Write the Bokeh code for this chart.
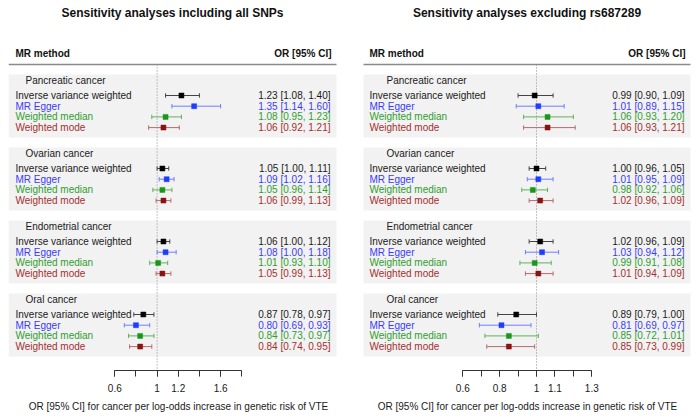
from bokeh.plotting import figure
from bokeh.layouts import row
from bokeh.models import Range1d, LinearAxis, FixedTicker, CustomJSTickFormatter, ColumnDataSource
from bokeh.core.properties import value
from bokeh.embed import file_html
from bokeh.resources import INLINE

# ---------------- data ----------------
cancers = ["Pancreatic cancer", "Ovarian cancer", "Endometrial cancer", "Oral cancer"]
methods = ["Inverse variance weighted", "MR Egger", "Weighted median", "Weighted mode"]

# Sensitivity analyses including all SNPs (rows: cancers, cols: methods)
all_or = [[1.23, 1.35, 1.08, 1.06],
          [1.05, 1.09, 1.05, 1.06],
          [1.06, 1.08, 1.01, 1.05],
          [0.87, 0.80, 0.84, 0.84]]
all_lo = [[1.08, 1.14, 0.95, 0.92],
          [1.00, 1.02, 0.96, 0.99],
          [1.00, 1.00, 0.93, 0.99],
          [0.78, 0.69, 0.73, 0.74]]
all_hi = [[1.40, 1.60, 1.23, 1.21],
          [1.11, 1.16, 1.14, 1.13],
          [1.12, 1.18, 1.10, 1.13],
          [0.97, 0.93, 0.97, 0.95]]

# Sensitivity analyses excluding rs687289
exc_or = [[0.99, 1.01, 1.06, 1.06],
          [1.00, 1.01, 0.98, 1.02],
          [1.02, 1.03, 0.99, 1.01],
          [0.89, 0.81, 0.85, 0.85]]
exc_lo = [[0.90, 0.89, 0.93, 0.93],
          [0.96, 0.95, 0.92, 0.96],
          [0.96, 0.94, 0.91, 0.94],
          [0.79, 0.69, 0.72, 0.73]]
exc_hi = [[1.09, 1.15, 1.20, 1.21],
          [1.05, 1.09, 1.06, 1.09],
          [1.09, 1.12, 1.08, 1.09],
          [1.00, 0.97, 1.01, 0.99]]

left_ticks = [0.6, 1.0, 1.2, 1.6]
left_minor = [0.6, 0.8, 1.0, 1.2, 1.4, 1.6, 1.8]
right_ticks = [0.6, 0.8, 1.0, 1.1, 1.3]
right_minor = [0.6, 0.7, 0.8, 0.9, 1.0, 1.1, 1.2, 1.3]

titles = ["Sensitivity analyses including all SNPs", "Sensitivity analyses excluding rs687289"]
x_label = "OR [95% CI] for cancer per log-odds increase in genetic risk of VTE"

# ---------------- style ----------------
FONT = "Liberation Sans"
text_colors = ["#1a1a1a", "#3a3aff", "#2f9e2f", "#a33030"]
mark_colors = ["#000000", "#1f3dff", "#1a961a", "#8a1212"]
line_colors = ["#444444", "#6f7fff", "#5cb25c", "#b86a6a"]


def panel(title, ors, los, his, major, minor, cfg):
    x0, x1 = cfg["x0"], cfg["x1"]
    p = figure(width=cfg["w"], height=416, output_backend="svg", toolbar_location=None,
               x_range=Range1d(x0, x1), y_range=Range1d(370, 0),
               x_axis_location=None, y_axis_location=None,
               min_border_left=cfg["bl"], min_border_right=cfg["br"],
               min_border_top=0, min_border_bottom=46)
    p.outline_line_color = None
    p.grid.grid_line_color = None
    p.background_fill_color = "white"
    p.border_fill_color = "white"

    one, ppu = cfg["px_one"], cfg["ppu"]
    p.extra_x_ranges = {"or": Range1d(1 + (x0 - one) / ppu, 1 + (x1 - one) / ppu)}

    box_l, box_r = cfg["box_l"], cfg["box_r"]
    group_top = [74 + 73 * g for g in range(len(cancers))]

    # group background boxes
    p.quad(left=[box_l] * 4, right=[box_r] * 4, top=group_top,
           bottom=[t + 63 for t in group_top], fill_color="#f2f2f2", line_color=None)

    # header
    p.text(x=[(box_l + box_r) / 2], y=[12.7], text=[title], text_font=value(FONT),
           text_font_size="12px", text_font_style="bold", text_align="center",
           text_baseline="middle", text_color="#111111")
    p.text(x=[cfg["txt_x"]], y=[53], text=["MR method"], text_font=value(FONT),
           text_font_size="10px", text_font_style="bold", text_align="left",
           text_baseline="middle", text_color="#111111")
    p.text(x=[cfg["val_x"] + 1], y=[53], text=["OR [95% CI]"], text_font=value(FONT),
           text_font_size="10px", text_font_style="bold", text_align="right",
           text_baseline="middle", text_color="#111111")
    p.segment(x0=[box_l], x1=[box_r], y0=[64], y1=[64], line_color="#8a8a8a", line_width=1.5)

    # reference line at OR = 1
    p.segment(x0=[1], x1=[1], y0=[64], y1=[370], x_range_name="or",
              line_color="#8a8a8a", line_dash="1 2", line_width=1)

    # group labels
    p.text(x=[cfg["grp_x"]] * 4, y=[t + 5.5 for t in group_top], text=cancers,
           text_font=value(FONT), text_font_size="10px", text_align="left",
           text_baseline="middle", text_color="#1a1a1a")

    ys, names, tcols, mcols, lcols, o, lo, hi, vals = [], [], [], [], [], [], [], [], []
    for g in range(len(cancers)):
        for m in range(len(methods)):
            ys.append(group_top[g] + 21 + 10.7 * m)
            names.append(methods[m])
            tcols.append(text_colors[m])
            mcols.append(mark_colors[m])
            lcols.append(line_colors[m])
            o.append(ors[g][m])
            lo.append(los[g][m])
            hi.append(his[g][m])
            vals.append(f"{ors[g][m]:.2f} [{los[g][m]:.2f}, {his[g][m]:.2f}]")
    src = ColumnDataSource(dict(y=ys, name=names, tcol=tcols, mcol=mcols, lcol=lcols,
                                o=o, lo=lo, hi=hi, val=vals,
                                ytop=[y - 2.2 for y in ys], ybot=[y + 2.2 for y in ys],
                                tx=[cfg["txt_x"]] * len(ys), vx=[cfg["val_x"]] * len(ys)))

    p.text(x="tx", y="y", text="name", source=src, text_font=value(FONT),
           text_font_size="10px", text_align="left", text_baseline="middle", text_color="tcol")
    p.text(x="vx", y="y", text="val", source=src, text_font=value(FONT),
           text_font_size="10px", text_align="right", text_baseline="middle", text_color="tcol")

    p.segment(x0="lo", x1="hi", y0="y", y1="y", source=src, x_range_name="or",
              line_color="lcol", line_width=1)
    p.segment(x0="lo", x1="lo", y0="ytop", y1="ybot", source=src, x_range_name="or",
              line_color="lcol", line_width=1)
    p.segment(x0="hi", x1="hi", y0="ytop", y1="ybot", source=src, x_range_name="or",
              line_color="lcol", line_width=1)
    p.scatter(x="o", y="y", source=src, x_range_name="or", marker="square", size=5,
              fill_color="mcol", line_color="mcol", line_width=0.5)

    ax = LinearAxis(x_range_name="or",
                    ticker=FixedTicker(ticks=major, minor_ticks=minor),
                    formatter=CustomJSTickFormatter(code="return String(Math.round(tick*10)/10);"),
                    bounds=(minor[0], minor[-1]),
                    axis_label=x_label)
    ax.axis_line_color = "#333333"
    ax.major_tick_line_color = "#333333"
    ax.minor_tick_line_color = "#333333"
    ax.major_tick_in = 0
    ax.major_tick_out = 6
    ax.minor_tick_in = 0
    ax.minor_tick_out = 6
    ax.major_label_standoff = 7
    ax.major_label_text_font = FONT
    ax.major_label_text_font_size = "10px"
    ax.major_label_text_color = "#1a1a1a"
    ax.axis_label_text_font = FONT
    ax.axis_label_text_font_size = "10px"
    ax.axis_label_text_font_style = "normal"
    ax.axis_label_text_color = "#1a1a1a"
    ax.axis_label_standoff = 6
    p.add_layout(ax, "below")
    return p


left_cfg = dict(w=350, x0=8, x1=348, bl=8, br=2, px_one=156.6, ppu=105.8,
                box_l=8, box_r=336, txt_x=15, val_x=330, grp_x=25)
right_cfg = dict(w=346, x0=362, x1=692, bl=12, br=4, px_one=536.0, ppu=184.3,
                 box_l=363, box_r=690, txt_x=369, val_x=684, grp_x=386)

p1 = panel(titles[0], all_or, all_lo, all_hi, left_ticks, left_minor, left_cfg)
p2 = panel(titles[1], exc_or, exc_lo, exc_hi, right_ticks, right_minor, right_cfg)

layout = row(p1, p2)
open("out.html", "w").write(file_html(layout, INLINE))
